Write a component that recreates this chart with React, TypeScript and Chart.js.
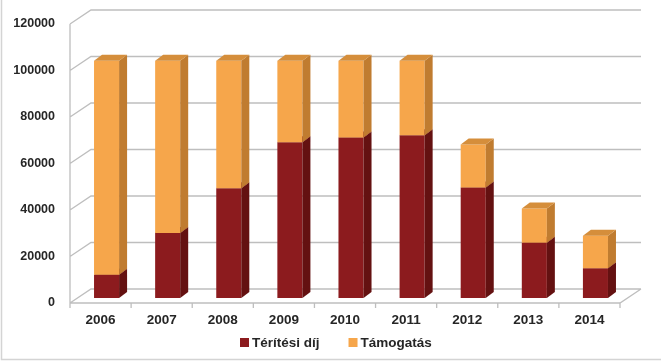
import React, { useEffect, useRef } from 'react';
import { Chart, registerables } from 'chart.js';

Chart.register(...registerables);

const years = ['2006', '2007', '2008', '2009', '2010', '2011', '2012', '2013', '2014'];
const teritesiDij = [10000, 28000, 47200, 67000, 69000, 70000, 47500, 23800, 12800];
const tamogatas = [92000, 74000, 54800, 35000, 33000, 32000, 18500, 14700, 14000];
const seriesNames = ['Térítési díj', 'Támogatás'];
const yTickValues = [0, 20000, 40000, 60000, 80000, 100000, 120000];

const FONT = '"Liberation Sans", Arial, sans-serif';
const TEXT = '#262626';
const GRID = '#BEBEBE';

// 3D geometry (pixels)
const WALL_DX = 21;
const WALL_DY = -14;
const BAR_OX = 6;
const BAR_OY = -5;
const BAR_DX = 8;
const BAR_DY = -6;

const faces = [
  { front: '#8C1B1E', side: '#641111', top: '#781718' },
  { front: '#F6A64B', side: '#C07C30', top: '#D58E3B' },
];

const poly = (ctx: CanvasRenderingContext2D, pts: number[][], fill: string) => {
  ctx.beginPath();
  ctx.moveTo(pts[0][0], pts[0][1]);
  for (let i = 1; i < pts.length; i++) ctx.lineTo(pts[i][0], pts[i][1]);
  ctx.closePath();
  ctx.fillStyle = fill;
  ctx.fill();
};

const threeD = {
  id: 'threeD',
  beforeDatasetsDraw(chart: any) {
    const { ctx, chartArea, scales } = chart;
    const { left, right, bottom } = chartArea;
    const y = scales.y;
    ctx.save();
    // walls & grid
    ctx.strokeStyle = GRID;
    ctx.lineWidth = 1.3;
    ctx.beginPath();
    for (const v of yTickValues) {
      const py = y.getPixelForValue(v);
      ctx.moveTo(left, py);
      ctx.lineTo(left + WALL_DX, py + WALL_DY);
      ctx.lineTo(right + WALL_DX, py + WALL_DY);
    }
    ctx.moveTo(left, bottom);
    ctx.lineTo(right, bottom);
    ctx.lineTo(right + WALL_DX, bottom + WALL_DY);
    ctx.moveTo(left, y.getPixelForValue(120000));
    ctx.lineTo(left, bottom);
    const n = years.length;
    for (let i = 0; i <= n; i++) {
      const px = left + (i * (right - left)) / n;
      ctx.moveTo(px, bottom);
      ctx.lineTo(px, bottom + 5);
    }
    ctx.stroke();

    // bars
    const metas = [chart.getDatasetMeta(0), chart.getDatasetMeta(1)];
    for (let i = 0; i < n; i++) {
      metas.forEach((meta: any, d: number) => {
        const el = meta.data[i];
        if (!el) return;
        const { x: cx, y: ty, base, width } = el.getProps(['x', 'y', 'base', 'width'], true);
        const x0 = cx - width / 2 + BAR_OX;
        const x1 = x0 + width;
        const yt = ty + BAR_OY;
        const yb = base + BAR_OY;
        const c = faces[d];
        poly(ctx, [[x0, yt], [x1, yt], [x1, yb], [x0, yb]], c.front);
        poly(ctx, [[x1, yb], [x1 + BAR_DX, yb + BAR_DY], [x1 + BAR_DX, yt + BAR_DY], [x1, yt]], c.side);
        poly(ctx, [[x0, yt], [x0 + BAR_DX, yt + BAR_DY], [x1 + BAR_DX, yt + BAR_DY], [x1, yt]], c.top);
      });
    }
    ctx.restore();
    return false;
  },
  afterDraw(chart: any) {
    const { ctx, width, height } = chart;
    ctx.save();
    // legend
    ctx.font = `bold 13.5px ${FONT}`;
    ctx.textBaseline = 'middle';
    ctx.textAlign = 'left';
    const ly = 343;
    const w0 = ctx.measureText(seriesNames[0]).width;
    const w1 = ctx.measureText(seriesNames[1]).width;
    const box = 9, gapText = 3, gapItem = 29;
    const total = box + gapText + w0 + gapItem + box + gapText + w1;
    let lx = 240 + (total - total); // start
    lx = 240;
    [w0, w1].forEach((w, i) => {
      ctx.fillStyle = faces[i].front;
      ctx.fillRect(lx, ly - box / 2 - 0.5, box, box);
      ctx.fillStyle = TEXT;
      ctx.fillText(seriesNames[i], lx + box + gapText, ly);
      lx += box + gapText + w + gapItem;
    });
    // outer border
    ctx.strokeStyle = '#D4D4D4';
    ctx.lineWidth = 1.5;
    ctx.beginPath();
    ctx.moveTo(1.5, 0);
    ctx.lineTo(1.5, height - 1.5);
    ctx.lineTo(width, height - 1.5);
    ctx.stroke();
    ctx.restore();
  },
};

export default function App() {
  const ref = useRef<HTMLCanvasElement>(null);
  useEffect(() => {
    document.body.style.margin = '0';
    const chart = new Chart(ref.current as HTMLCanvasElement, {
      type: 'bar',
      data: {
        labels: years,
        datasets: [
          { label: seriesNames[0], data: teritesiDij, backgroundColor: faces[0].front, borderWidth: 0 },
          { label: seriesNames[1], data: tamogatas, backgroundColor: faces[1].front, borderWidth: 0 },
        ],
      },
      options: {
        responsive: false,
        animation: false,
        layout: { padding: { left: 9, right: 0, top: 24, bottom: 36 } },
        datasets: { bar: { categoryPercentage: 1, barPercentage: 0.41 } },
        scales: {
          x: {
            stacked: true,
            grid: { display: false, drawTicks: false },
            border: { display: false },
            ticks: { color: TEXT, font: { family: FONT, size: 13.5, weight: 'bold' }, padding: 9 },
            afterFit: (s: any) => { s.height = 22; },
          },
          y: {
            stacked: true,
            min: 0,
            max: 120000,
            grid: { display: false, drawTicks: false },
            border: { display: false },
            ticks: {
              stepSize: 20000,
              color: TEXT,
              padding: 15,
              font: { family: FONT, size: 12.5, weight: 'bold' },
              callback: (v: any) => String(v),
            },
            afterFit: (s: any) => { s.width = 61; },
          },
          y2: {
            position: 'right',
            display: true,
            grid: { display: false, drawTicks: false },
            border: { display: false },
            ticks: { display: false },
            afterFit: (s: any) => { s.width = 41; },
          },
        },
        plugins: {
          legend: { display: false },
          tooltip: { enabled: false },
        },
      },
      plugins: [threeD],
    } as any);
    return () => chart.destroy();
  }, []);
  return (
    <div style={{ width: 661, height: 361 }}>
      <canvas ref={ref} width={661} height={361} />
    </div>
  );
}
